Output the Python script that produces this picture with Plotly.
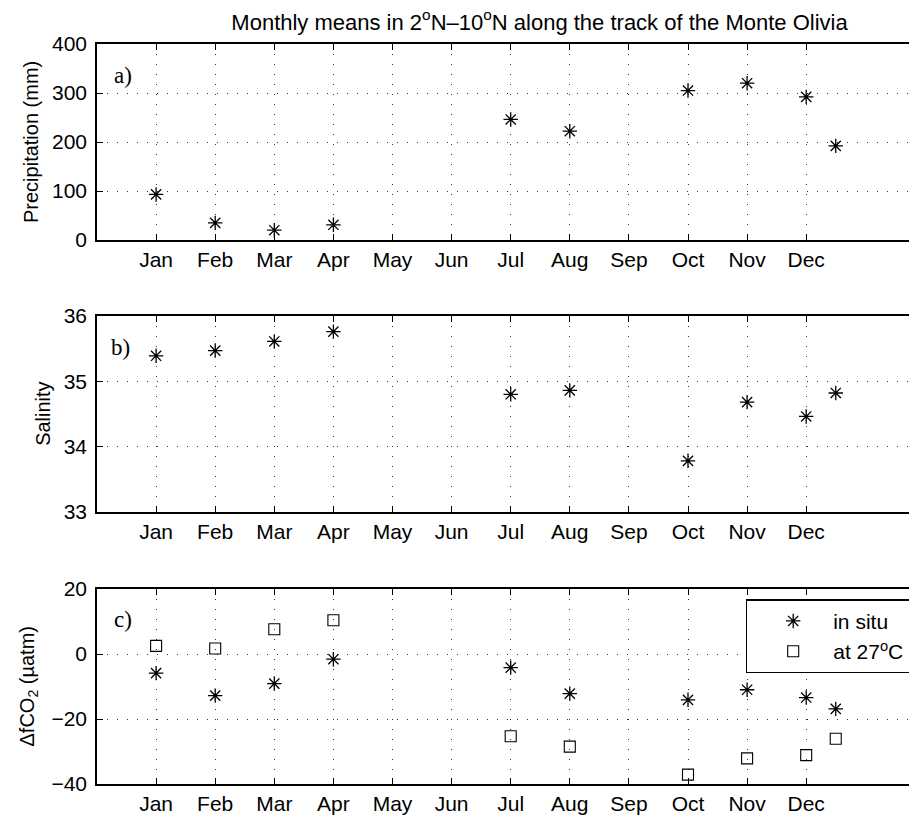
import plotly.graph_objects as go

# ---------------- data ----------------
month_labels = ["Jan", "Feb", "Mar", "Apr", "May", "Jun",
                "Jul", "Aug", "Sep", "Oct", "Nov", "Dec"]
month_ticks = [1, 2, 3, 4, 5, 6, 7, 8, 9, 10, 11, 12]
obs_month = [1, 2, 3, 4, 7, 8, 10, 11, 12, 12.5]
precip_mm = [93, 35, 20, 31, 246, 222, 305, 320, 292, 192]
salinity = [35.39, 35.47, 35.61, 35.76, 34.80, 34.86, 33.78, 34.68, 34.46, 34.82]
dfco2_insitu = [-5.9, -12.8, -9.1, -1.6, -4.2, -12.2, -14.1, -11.0, -13.4, -16.9]
dfco2_27c = [2.5, 1.7, 7.6, 10.4, -25.3, -28.5, -37.1, -32.1, -31.1, -26.1]

FONT = "Liberation Sans, Helvetica, Arial, sans-serif"
OFF = 8  # page body margin in the browser
W, H = 917 - OFF, 815 - OFF


def fx(px):  # screen px -> figure px
    return px - OFF


ML, MR, MT, MB = fx(97), 0, fx(44), H - fx(784)
plot_h = H - MT - MB
plot_w = W - ML - MR

fig = go.Figure()

star = dict(symbol="asterisk-open", size=12, color="black",
            line=dict(color="black", width=1.3))
square = dict(symbol="square-open", size=11, color="black",
              line=dict(color="black", width=1.1))

fig.add_trace(go.Scatter(x=obs_month, y=precip_mm, mode="markers", marker=star,
                         showlegend=False, xaxis="x", yaxis="y"))
fig.add_trace(go.Scatter(x=obs_month, y=salinity, mode="markers", marker=star,
                         showlegend=False, xaxis="x2", yaxis="y2"))
fig.add_trace(go.Scatter(x=obs_month, y=dfco2_insitu, mode="markers", marker=star,
                         name="in situ", xaxis="x3", yaxis="y3"))
fig.add_trace(go.Scatter(x=obs_month, y=dfco2_27c, mode="markers", marker=square,
                         name="at 27<sup>o</sup>C", xaxis="x3", yaxis="y3"))

xcommon = dict(range=[0, plot_w / 59.1], tickvals=month_ticks, ticktext=month_labels,
               ticks="inside", ticklen=6, tickcolor="black", tickwidth=1,
               showline=True, linecolor="black", linewidth=1.5, mirror="ticks",
               showgrid=True, gridcolor="#333", griddash="1px,9px", gridwidth=1,
               zeroline=False, tickfont=dict(family=FONT, size=21, color="black"))
ycommon = dict(ticks="inside", ticklen=6, tickcolor="black", tickwidth=1,
               showline=True, linecolor="black", linewidth=1.5, mirror=False,
               showgrid=True, gridcolor="#333", griddash="1px,9px", gridwidth=1,
               zeroline=False, ticklabelstandoff=4,
               tickfont=dict(family=FONT, size=21, color="black"))


def paper_x(px):
    return (fx(px) - ML) / plot_w


def paper_y(py):
    return (H - MB - fx(py)) / plot_h


def dom(top_px, bot_px):
    return [paper_y(bot_px), paper_y(top_px)]


da = dom(44, 240)
db = dom(316, 511.7)
dc = dom(589, 784)

fig.update_layout(
    width=W, height=H,
    margin=dict(l=ML, r=MR, t=MT, b=MB),
    paper_bgcolor="white", plot_bgcolor="white",
    font=dict(family=FONT, size=21, color="black"),
    xaxis=dict(xcommon, anchor="y"),
    xaxis2=dict(xcommon, anchor="y2"),
    xaxis3=dict(xcommon, anchor="y3"),
    yaxis=dict(ycommon, domain=da, range=[0, 400], dtick=100, anchor="x"),
    yaxis2=dict(ycommon, domain=db, range=[33, 36], dtick=1, anchor="x2"),
    yaxis3=dict(ycommon, domain=dc, range=[-40, 20], dtick=20, anchor="x3"),
    title=dict(text="Monthly means in 2<sup>o</sup>N\u201310<sup>o</sup>N along the track of the Monte Olivia",
               x=fx(539.5) / W, y=1 - fx(22) / H, xref="container", yref="container",
               xanchor="center", yanchor="middle",
               font=dict(family=FONT, size=22, color="black")),
    legend=dict(x=paper_x(745.7), y=paper_y(599.3),
                xanchor="left", yanchor="top", bgcolor="white",
                bordercolor="black", borderwidth=1.5,
                font=dict(family=FONT, size=21, color="black"),
                indentation=6, itemwidth=70),
)

ylabels = [("Precipitation (mm)", 31, (44 + 240) / 2),
           ("Salinity", 43, (316 + 511.7) / 2),
           ("\u0394fCO<sub>2</sub> (\u00b5atm)", 28, (589 + 784) / 2)]
for txt, px, py in ylabels:
    fig.add_annotation(text=txt, x=paper_x(px), y=paper_y(py), xref="paper", yref="paper",
                       textangle=-90, showarrow=False, xanchor="center", yanchor="middle",
                       font=dict(family=FONT, size=20, color="black"))

panel_tags = [("a)", 112, 75), ("b)", 109, 347), ("c)", 112, 619)]
for txt, px, py in panel_tags:
    fig.add_annotation(text=txt, x=paper_x(px), y=paper_y(py), xref="paper", yref="paper",
                       showarrow=False, xanchor="left", yanchor="middle",
                       font=dict(family="Liberation Serif, Times New Roman, serif", size=23, color="black"))

fig.write_html("out.html")
